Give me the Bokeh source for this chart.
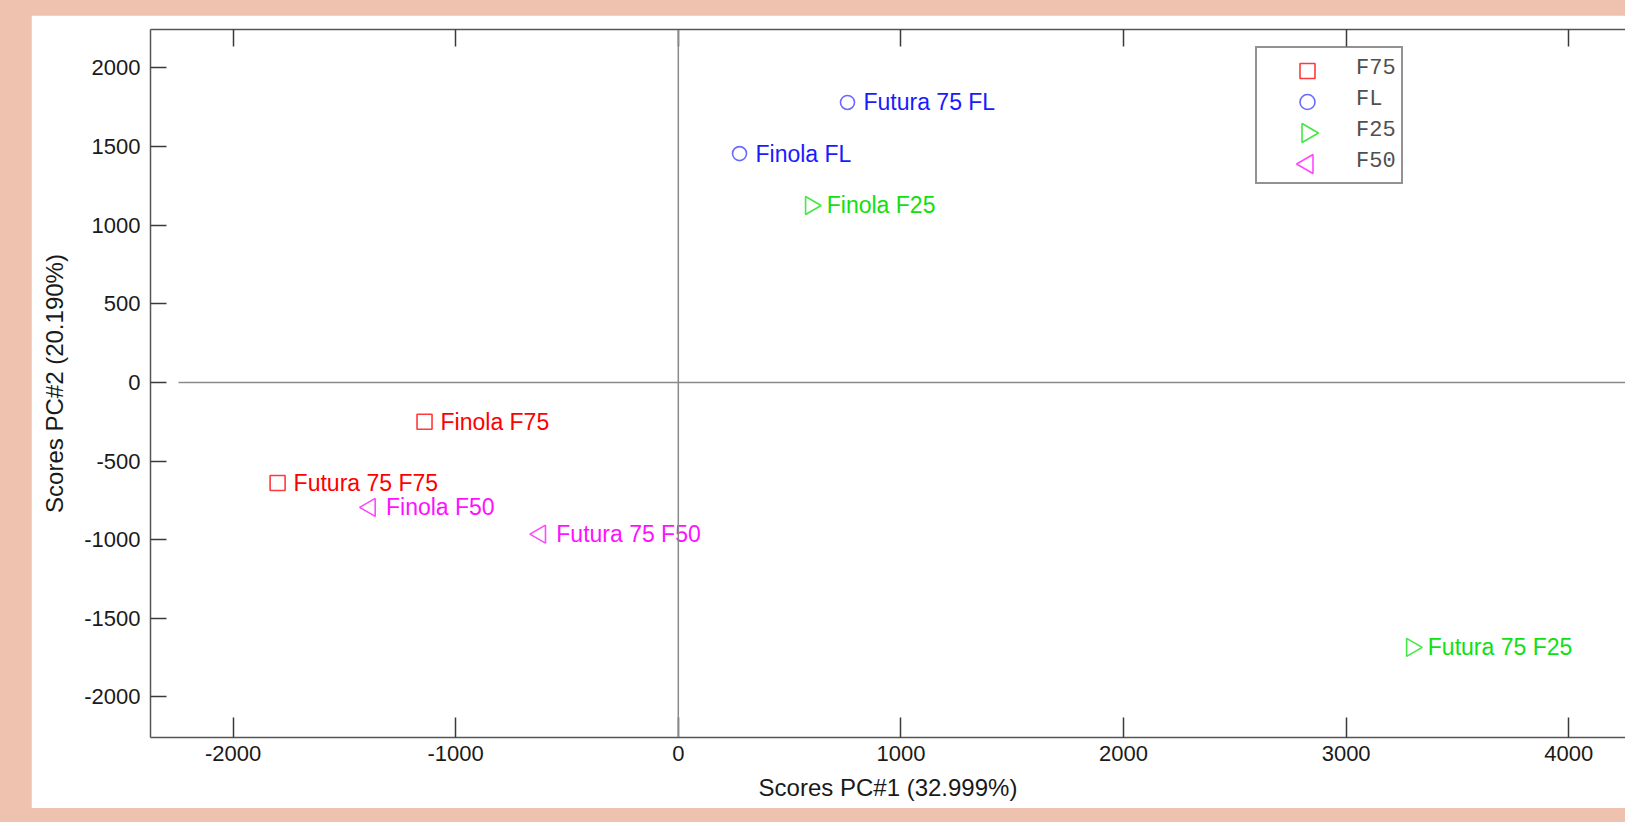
import math
from bokeh.plotting import figure
from bokeh.models import (Range1d, LinearAxis, Span, Legend, LegendItem, FixedTicker,
                          ColumnDataSource, CustomJSTickFormatter)
from bokeh.layouts import column
from bokeh.embed import file_html
from bokeh.resources import INLINE
from bokeh.core.properties import value

# ---------------- data ----------------
names = ["Finola F75", "Futura 75 F75", "Futura 75 FL", "Finola FL",
         "Finola F25", "Futura 75 F25", "Finola F50", "Futura 75 F50"]
groups = ["F75", "F75", "FL", "FL", "F25", "F25", "F50", "F50"]
pc1 = [-1140, -1800, 760, 275, 595, 3295, -1385, -620]
pc2 = [-250, -640, 1780, 1455, 1125, -1685, -795, -965]

legend_labels = ["F75", "FL", "F25", "F50"]
x_ticks = [-2000, -1000, 0, 1000, 2000, 3000, 4000]
y_ticks = [-2000, -1500, -1000, -500, 0, 500, 1000, 1500, 2000]
x_label = "Scores PC#1 (32.999%)"
y_label = "Scores PC#2 (20.190%)"
x_limits = [-2371, 4255]
y_limits = [-2258, 2244]
zero_line_x = [-2245, 4255]
zero_line_y = [0, 0]

# ---------------- layout / styles ----------------
SALMON = "#EEC2AE"
FIG_W, FIG_H = 1594, 793
B_L, B_R, B_T, B_B = 119, 0, 14, 71
FRAME_W = FIG_W - B_L - B_R
FRAME_H = FIG_H - B_T - B_B

style = {
    "F75": dict(marker="square", angle=0.0, size=15, line="#FF3a3a", text="#FF0000"),
    "FL": dict(marker="circle", angle=0.0, size=14, line="#6a6aFF", text="#1a1aFF"),
    "F25": dict(marker="triangle", angle=-math.pi / 2, size=18, line="#44E844", text="#10E010"),
    "F50": dict(marker="triangle", angle=math.pi / 2, size=18, line="#FF48FF", text="#FF10FF"),
}
legend_marker_size = {"F75": 15, "FL": 15, "F25": 19, "F50": 19}

p = figure(width=FIG_W, height=FIG_H,
           x_range=Range1d(*x_limits), y_range=Range1d(*y_limits),
           output_backend="svg", toolbar_location=None,
           min_border_left=B_L, min_border_right=B_R, min_border_top=B_T, min_border_bottom=B_B)
p.outline_line_color = None
p.grid.visible = False
p.background_fill_color = "white"
p.border_fill_color = "white"

AX = "#555555"
def style_axis(ax, tick_in):
    ax.axis_line_color = AX
    ax.axis_line_width = 1.5
    ax.major_tick_line_color = "#3a3a3a"
    ax.major_tick_line_width = 1.5
    ax.major_tick_in = tick_in
    ax.major_tick_out = 0
    ax.minor_tick_line_color = None
    ax.major_label_text_font = "Liberation Sans"
    ax.major_label_text_font_size = "22px"
    ax.major_label_text_color = "#1a1a1a"
    ax.major_label_standoff = 10
    ax.axis_label_text_font = "Liberation Sans"
    ax.axis_label_text_font_size = "24px"
    ax.axis_label_text_font_style = "normal"
    ax.axis_label_text_color = "#1a1a1a"

xa = p.xaxis[0]
ya = p.yaxis[0]
xa.ticker = FixedTicker(ticks=x_ticks)
ya.ticker = FixedTicker(ticks=y_ticks)
style_axis(xa, 20)
style_axis(ya, 16)
xa.major_label_overrides = {t: str(t) for t in x_ticks}
ya.major_label_overrides = {t: str(t) for t in y_ticks}
xa.axis_label = x_label
ya.axis_label = y_label
xa.major_label_standoff = 8
xa.axis_label_standoff = 10
ya.axis_label_standoff = 13

top = LinearAxis(ticker=FixedTicker(ticks=x_ticks),
                 formatter=CustomJSTickFormatter(code="return ''"))
style_axis(top, 17)
top.major_label_standoff = 0
p.add_layout(top, "above")

# origin lines
p.add_layout(Span(location=0, dimension="height", line_color="#8a8a8a", line_width=1.5))
p.line(zero_line_x, zero_line_y, line_color="#8a8a8a", line_width=1.5)

# ---------------- legend geometry (screen px relative to frame) ----------------
LEG_X, LEG_Y = 1105, 553
LEG_PAD, ROW_H, GLYPH_W = 5, 31, 94
LEG_H = 2 * LEG_PAD + ROW_H * len(legend_labels)

def px_to_x(px):
    return x_limits[0] + px * (x_limits[1] - x_limits[0]) / FRAME_W

def py_to_y(py):
    return y_limits[0] + py * (y_limits[1] - y_limits[0]) / FRAME_H

items = []
for k, g in enumerate(legend_labels):
    idx = [i for i, gg in enumerate(groups) if gg == g]
    src = ColumnDataSource(dict(x=[pc1[i] for i in idx], y=[pc2[i] for i in idx],
                                name=[names[i] for i in idx]))
    s = style[g]
    p.scatter("x", "y", source=src, marker=s["marker"], angle=s["angle"], size=s["size"],
              fill_color=None, line_color=s["line"], line_width=1.6)
    p.text("x", "y", text="name", source=src, x_offset=16, text_baseline="middle",
           text_align="left", text_font=value("Liberation Sans"), text_font_size="23px",
           text_color=s["text"])
    # invisible stand-in so the legend shows the label; marker is drawn below with its angle
    dummy = p.scatter(x=[], y=[], marker="square", fill_alpha=0, line_alpha=0)
    items.append(LegendItem(label=g, renderers=[dummy]))
    lx = px_to_x(LEG_X + LEG_PAD + GLYPH_W / 2)
    ly = py_to_y(LEG_Y + LEG_H - LEG_PAD - ROW_H / 2 - ROW_H * k)
    p.scatter([lx], [ly], marker=s["marker"], angle=s["angle"], size=legend_marker_size[g],
              fill_color=None, line_color=s["line"], line_width=1.6)

legend = Legend(items=items, location=(LEG_X, LEG_Y), padding=LEG_PAD, margin=0, spacing=0,
                glyph_width=GLYPH_W, glyph_height=ROW_H, label_standoff=0, label_height=ROW_H,
                label_text_font="Liberation Mono", label_text_font_size="22px",
                label_text_color="#505050", border_line_color="#262626", border_line_width=2.2,
                background_fill_alpha=0.0)
p.add_layout(legend)

layout = column(p, styles={"background-color": SALMON, "padding": "15px 0px 14px 31px"})
open("out.html", "w").write(file_html(layout, INLINE))
